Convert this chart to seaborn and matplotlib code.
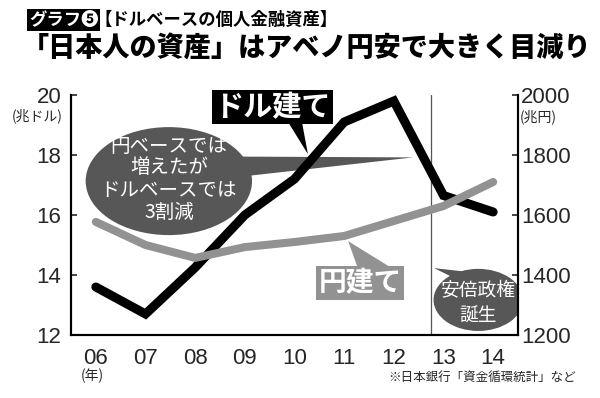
import numpy as np
import matplotlib
matplotlib.use("Agg")
import matplotlib.pyplot as plt
import seaborn as sns
from matplotlib.patches import Ellipse, Polygon

# ---- data ----
years = ["06", "07", "08", "09", "10", "11", "12", "13", "14"]
dollar_trn = [13.6, 12.7, 14.25, 16.0, 17.2, 19.1, 19.8, 16.65, 16.1]     # 兆ドル (left)
yen_trn = [1577, 1500, 1457, 1493, 1510, 1530, 1580, 1630, 1710]          # 兆円 (right)
left_ticks = [12, 14, 16, 18, 20]
right_ticks = [1200, 1400, 1600, 1800, 2000]
abe_pos = 6.75   # 安倍政権誕生 (end of 2012)

sns.set_theme(style="white")
plt.rcParams['font.family'] = ['Noto Sans CJK JP', 'DejaVu Sans']
NUM = ['Liberation Sans', 'DejaVu Sans']
JP = ['Noto Sans CJK JP', 'DejaVu Sans']

fig = plt.figure(figsize=(6.0, 3.98), dpi=100)
ax = fig.add_axes([71/600, 1-335/398, (518-71)/600, (335-95)/398])
ax2 = ax.twinx()

x = np.arange(len(years))
sns.lineplot(x=x, y=dollar_trn, ax=ax, color='black', linewidth=6.5, zorder=5,
             solid_capstyle='round', solid_joinstyle='miter')
sns.lineplot(x=x, y=yen_trn, ax=ax2, color='#929292', linewidth=5.8, zorder=5,
             solid_capstyle='round', solid_joinstyle='round')

ax.set_xlim(-0.5, len(years) - 0.5)
ax.set_ylim(12, 20)
ax2.set_ylim(1200, 2000)
ax.set_xticks(x)
ax.set_xticklabels(years)
ax.set_yticks(left_ticks)
ax2.set_yticks(right_ticks)
for a in (ax, ax2):
    a.grid(False)
    a.spines['top'].set_visible(False)
    for s in a.spines.values():
        s.set_linewidth(1.5)
        s.set_color('black')
ax.tick_params(axis='x', direction='in', length=4, width=1.2, pad=9, labelsize=16)
ax.tick_params(axis='y', direction='in', length=4, width=1.2, pad=7, labelsize=16)
ax2.tick_params(axis='y', direction='in', length=4, width=1.2, pad=2, labelsize=16)
for lab in ax.get_xticklabels() + ax.get_yticklabels() + ax2.get_yticklabels():
    lab.set_family(NUM)
ax.set_xlabel('')
ax.set_ylabel('')
ax2.set_ylabel('')

# Abe line
ax.axvline(abe_pos, color='#555555', linewidth=0.9, zorder=2)

# bubble: 円ベースでは...
bub = '#575757'
ax.add_patch(Ellipse((1.47, 17.13), 3.35, 3.6, facecolor=bub, edgecolor='none', zorder=2))
ax.add_patch(Polygon([(2.5, 17.95), (2.5, 17.2), (6.39, 17.92)], closed=True,
                     facecolor=bub, edgecolor='none', zorder=2))
for txt, yy in [("円ベースでは", 18.27), ("増えたが", 17.57), ("ドルベースでは", 16.83), ("3割減", 16.1)]:
    ax.text(1.47, yy, txt, color='white', fontsize=14, ha='center', va='center',
            family=JP, zorder=3)

# label ドル建て
ax.add_patch(Polygon([(3.87, 19.1), (4.15, 19.1), (4.27, 18.03)], closed=True,
                     facecolor='black', edgecolor='none', zorder=4, clip_on=False))
ax.text(3.55, 19.6, "ドル建て", color='white', fontsize=21, fontweight='bold', ha='center',
        va='center', family=JP, zorder=6, clip_on=False,
        bbox=dict(boxstyle='square,pad=0.08', facecolor='black', edgecolor='none'))

# label 円建て
ax.add_patch(Polygon([(5.08, 15.13), (5.26, 14.3), (5.89, 14.3)], closed=True,
                     facecolor='#929292', edgecolor='none', zorder=2))
ax.text(5.32, 13.73, "円建て", color='white', fontsize=20, fontweight='bold', ha='center',
        va='center', family=JP, zorder=3,
        bbox=dict(boxstyle='square,pad=0.1', facecolor='#929292', edgecolor='none'))

# 安倍政権誕生 bubble
ax.add_patch(Ellipse((7.7, 13.17), 1.8, 2.07, facecolor=bub, edgecolor='none', zorder=2))
ax.add_patch(Polygon([(6.81, 14.23), (7.5, 14.1), (7.3, 13.83)], closed=True,
                     facecolor=bub, edgecolor='none', zorder=2))
ax.text(7.7, 13.47, "安倍政権", color='white', fontsize=13.5, ha='center', va='center',
        family=JP, zorder=3)
ax.text(7.7, 12.63, "誕生", color='white', fontsize=13.5, ha='center', va='center',
        family=JP, zorder=3)

# unit labels
fig.text(63/600, 1-116/398, "(兆ドル)", fontsize=10, ha='right', va='center', family=JP)
fig.text(520/600, 1-117/398, "(兆円)", fontsize=10, ha='left', va='center', family=JP)
fig.text(92/600, 1-376/398, "(年)", fontsize=10, ha='center', va='center', family=JP)
fig.text(576/600, 1-377/398, "※日本銀行「資金循環統計」など", fontsize=9, ha='right',
         va='center', family=JP)

# titles
fig.text(29/600, 1-20/398, "グラフ❺", color='white', fontsize=12.5, fontweight='bold',
         ha='left', va='center', family=JP,
         bbox=dict(boxstyle='square,pad=0.1', facecolor='black', edgecolor='none'))
fig.text(94/600, 1-20/398, "【ドルベースの個人金融資産】", color='black', fontsize=12.5,
         fontweight='bold', ha='left', va='center', family=JP)
fig.text(22/600, 1-47/398, "「日本人の資産」はアベノ円安で大きく目減り", color='black',
         fontsize=19.5, fontweight='heavy', ha='left', va='center', family=JP)

fig.savefig("out.png", dpi=100)
